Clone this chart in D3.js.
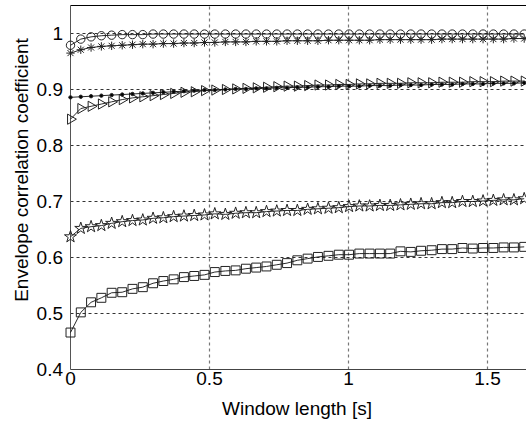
<!DOCTYPE html>
<html><head><meta charset="utf-8">
<script src="https://cdn.jsdelivr.net/npm/d3@7"></script>
<style>body{margin:0;background:#fff}svg{display:block}text{font-family:"Liberation Sans",Arial,sans-serif}</style>
</head><body>
<svg id="c" width="526" height="421"></svg>
<script>
const windowLength = [0,0.037,0.074,0.111,0.148,0.186,0.223,0.260,0.297,0.334,0.371,0.408,0.445,0.482,0.519,0.557,0.594,0.631,0.668,0.705,0.742,0.779,0.816,0.853,0.890,0.928,0.965,1.002,1.039,1.076,1.113,1.150,1.187,1.224,1.261,1.299,1.336,1.373,1.410,1.447,1.484,1.521,1.558,1.595,1.632];
const circleSeries = [0.979,0.990,0.994,0.996,0.997,0.998,0.998,0.998,0.999,0.999,0.999,0.999,0.999,0.999,0.999,0.999,0.999,0.999,0.999,0.999,0.999,0.999,0.999,0.999,0.999,0.999,0.999,0.999,0.999,0.999,0.999,0.999,0.999,0.999,0.999,0.999,0.999,0.999,0.999,0.999,0.999,0.999,0.999,0.999,0.999];
const asteriskSeries = [0.965,0.971,0.975,0.977,0.978,0.979,0.980,0.981,0.981,0.982,0.982,0.983,0.983,0.984,0.984,0.985,0.985,0.985,0.986,0.986,0.986,0.987,0.987,0.987,0.987,0.988,0.988,0.988,0.988,0.988,0.989,0.989,0.989,0.989,0.989,0.989,0.990,0.990,0.990,0.990,0.990,0.990,0.990,0.991,0.991];
const dotSeries = [0.886,0.887,0.888,0.889,0.890,0.891,0.892,0.893,0.894,0.895,0.896,0.897,0.898,0.899,0.899,0.900,0.901,0.901,0.902,0.902,0.903,0.903,0.904,0.904,0.905,0.905,0.906,0.906,0.906,0.907,0.907,0.907,0.908,0.908,0.908,0.909,0.909,0.909,0.910,0.910,0.910,0.911,0.911,0.911,0.912];
const triangleSeries = [0.847,0.866,0.870,0.874,0.878,0.882,0.885,0.887,0.889,0.891,0.893,0.895,0.896,0.898,0.899,0.900,0.901,0.902,0.903,0.904,0.905,0.906,0.906,0.907,0.908,0.908,0.909,0.909,0.910,0.910,0.911,0.911,0.911,0.912,0.912,0.912,0.913,0.913,0.913,0.914,0.914,0.914,0.915,0.915,0.915];
const starSeries = [0.637,0.652,0.655,0.657,0.661,0.664,0.666,0.667,0.670,0.671,0.673,0.674,0.675,0.676,0.678,0.677,0.679,0.680,0.680,0.682,0.683,0.684,0.684,0.686,0.687,0.688,0.689,0.691,0.692,0.692,0.693,0.693,0.694,0.695,0.696,0.696,0.698,0.698,0.700,0.700,0.701,0.702,0.703,0.703,0.705];
const squareSeries = [0.466,0.502,0.520,0.528,0.537,0.538,0.544,0.547,0.554,0.558,0.561,0.565,0.567,0.569,0.574,0.576,0.577,0.580,0.582,0.584,0.587,0.590,0.595,0.598,0.601,0.603,0.605,0.605,0.607,0.607,0.607,0.607,0.611,0.610,0.612,0.613,0.615,0.615,0.617,0.616,0.617,0.617,0.618,0.618,0.619];
const xTicks = [0, 0.5, 1, 1.5];
const xTickLabels = ["0", "0.5", "1", "1.5"];
const yTicks = [0.4, 0.5, 0.6, 0.7, 0.8, 0.9, 1];
const yTickLabels = ["0.4", "0.5", "0.6", "0.7", "0.8", "0.9", "1"];

const svg = d3.select("#c");
const W = 526;
const x = d3.scaleLinear().domain([0, 1.6]).range([70.5, 70.5 + 1.6 * 278]);
const y = d3.scaleLinear().domain([0.4, 1.05]).range([369.5, 5.5]);
const fs = 19;

// grid
const g = svg.append("g");
xTicks.filter(t => t > 0).forEach(t => {
  g.append("line").attr("x1", x(t)).attr("x2", x(t)).attr("y1", y(0.4)).attr("y2", y(1.05))
    .attr("stroke", "#777").attr("stroke-width", 1.2).attr("stroke-dasharray", "3,3");
});
yTicks.filter(t => t > 0.4).forEach(t => {
  g.append("line").attr("x1", x(0)).attr("x2", W).attr("y1", y(t)).attr("y2", y(t))
    .attr("stroke", "#333").attr("stroke-width", 1).attr("stroke-dasharray", "3,3");
});

// axes
svg.append("line").attr("x1", x(0)).attr("x2", W).attr("y1", y(1.05)).attr("y2", y(1.05)).attr("stroke", "#000").attr("stroke-width", 1);
svg.append("line").attr("x1", x(0)).attr("x2", W).attr("y1", y(0.4)).attr("y2", y(0.4)).attr("stroke", "#444").attr("stroke-width", 1);
svg.append("line").attr("x1", x(0)).attr("x2", x(0)).attr("y1", y(0.4)).attr("y2", y(1.05)).attr("stroke", "#555").attr("stroke-width", 1);

// tick labels
xTicks.forEach((t, i) => {
  svg.append("text").attr("x", x(t)).attr("y", 385).attr("text-anchor", "middle")
    .attr("font-size", fs).attr("fill", "#000").text(xTickLabels[i]);
});
yTicks.forEach((t, i) => {
  svg.append("text").attr("x", 63).attr("y", y(t)).attr("dy", "0.35em").attr("text-anchor", "end")
    .attr("font-size", fs).attr("fill", "#000").text(yTickLabels[i]);
});
svg.append("text").attr("x", 297).attr("y", 415).attr("text-anchor", "middle").attr("font-size", fs).text("Window length [s]");
svg.append("text").attr("transform", "translate(28,170) rotate(-90)").attr("text-anchor", "middle").attr("font-size", fs).text("Envelope correlation coefficient");

// series
const asterisk = (r) => {
  const p = d3.path();
  p.moveTo(-r, 0); p.lineTo(r, 0);
  p.moveTo(0, -r); p.lineTo(0, r);
  const d = r * 0.72;
  p.moveTo(-d, -d); p.lineTo(d, d);
  p.moveTo(-d, d); p.lineTo(d, -d);
  return p.toString();
};
const series = [
  {v: squareSeries, m: d3.symbol(d3.symbolSquare, 80)(), rot: 0},
  {v: starSeries, m: d3.symbol(d3.symbolStar, 45)(), rot: 0},
  {v: triangleSeries, m: d3.symbol(d3.symbolTriangle, 45)(), rot: 90},
  {v: dotSeries, m: d3.symbol(d3.symbolCircle, 9)(), rot: 0, fill: "#000"},
  {v: asteriskSeries, m: asterisk(4.2), rot: 0},
  {v: circleSeries, m: d3.symbol(d3.symbolCircle, 55)(), rot: 0}
];
const line = d3.line().x((d, i) => x(windowLength[i])).y(d => y(d));
series.forEach(s => {
  svg.append("path").attr("d", line(s.v)).attr("fill", "none").attr("stroke", "#111").attr("stroke-width", 0.9);
  svg.append("g").selectAll("path").data(s.v).join("path")
    .attr("d", s.m)
    .attr("transform", (d, i) => `translate(${x(windowLength[i])},${y(d)}) rotate(${s.rot})`)
    .attr("fill", s.fill || "none").attr("stroke", "#222").attr("stroke-width", 1);
});
</script>
</body></html>
